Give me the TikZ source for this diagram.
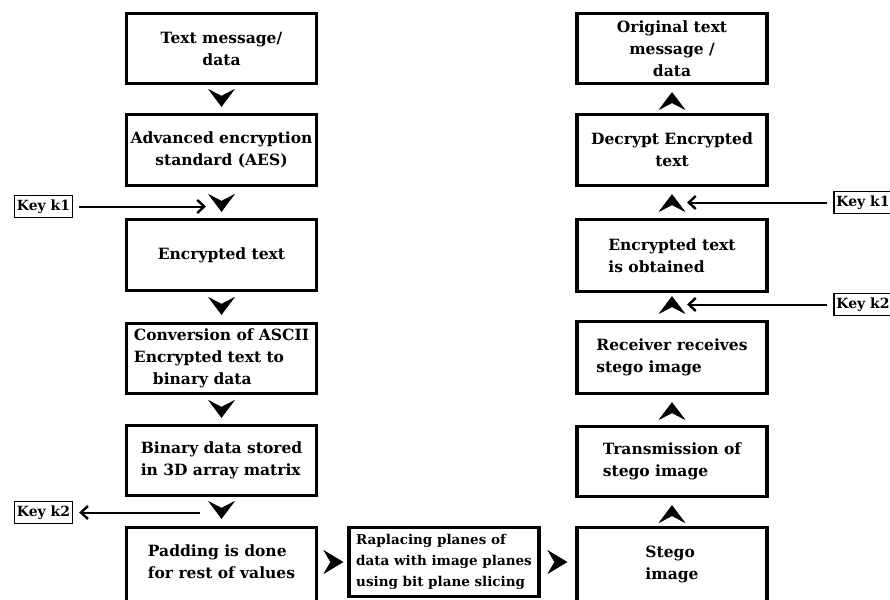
\documentclass[tikz,border=0pt]{standalone}
\usepackage{fontspec}
\setmainfont{DejaVu Serif}
\usetikzlibrary{arrows.meta}
\begin{document}
\begin{tikzpicture}[x=1pt,y=-1pt,
  box/.style={draw, line width=3.2pt, minimum width=190pt, inner sep=0pt,
    font=\fontsize{15.5}{22}\selectfont\bfseries},
  midbox/.style={draw, line width=3.2pt, minimum width=190pt, inner sep=0pt,
    font=\fontsize{13.5}{21}\selectfont\bfseries},
  lbl/.style={font=\fontsize{15.5}{22}\selectfont\bfseries, inner sep=0pt},
  keybox/.style={draw, line width=1.4pt, minimum width=58pt, minimum height=22pt,
    inner sep=0pt, font=\fontsize{14}{15}\selectfont\bfseries},
  chev/.style={line width=0.01pt, shorten <=18pt, shorten >=#1,
    -{Stealth[length=18pt,width=27pt,inset=7pt,line width=0.5pt]}},
  chevr/.style={line width=0.01pt, shorten <=22pt, shorten >=#1,
    -{Stealth[length=20pt,width=24pt,inset=7pt,line width=0.5pt]}},
  keyarrow/.style={line width=2pt, -{Straight Barb[length=7pt,width=13pt,line width=2.4pt]}}
]
\useasboundingbox (0,0) rectangle (890,599);
\fill[white] (0,0) rectangle (890,599);
\begin{scope}
\clip (0,0) rectangle (890,599);

% left column
\node[box, minimum height=70pt, align=center] (L1) at (221.5,48.5) {Text message/\\data};
\node[box, minimum height=71pt, align=center] (L2) at (221.5,150) {Advanced encryption\\standard (AES)};
\node[box, minimum height=71pt, align=center] (L3) at (221.5,255) {Encrypted text};
\node[box, minimum height=70pt, align=left] (L4) at (221.5,358.5) {Conversion of ASCII\\Encrypted text to\\\hspace*{19pt}binary data};
\node[box, minimum height=70pt, align=left] (L5) at (221.5,460.5) {Binary data stored\\in 3D array matrix};
\node[box, minimum height=77pt,
  label={[lbl, align=left, yshift=4pt]center:{Padding is done\\for rest of values}}] (L6) at (221.5,566) {};

% middle
\node[midbox, minimum height=69pt, align=left] (M) at (444,562) {Raplacing planes of\\data with image planes\\using bit plane slicing};

% right column
\node[box, minimum height=70pt, align=center] (R1) at (672,48.5) {Original text\\message /\\data};
\node[box, minimum height=71pt, align=center] (R2) at (672,150) {Decrypt Encrypted\\text};
\node[box, minimum height=72pt, align=left] (R3) at (672,255.5) {Encrypted text\\is obtained};
\node[box, minimum height=72pt, align=left] (R4) at (672,357.5) {Receiver receives\\stego image};
\node[box, minimum height=70pt, align=left] (R5) at (672,461.5) {Transmission of\\stego image};
\node[box, minimum height=77pt,
  label={[lbl, align=left, yshift=2pt]center:{Stego\\image}}] (R6) at (672,566) {};

% keys
\node[keybox] (k1L) at (43.5,206.5) {Key k1};
\node[keybox] (k2L) at (43.5,512.5) {Key k2};
\node[keybox] (k1R) at (863,202.5) {Key k1};
\node[keybox] (k2R) at (863,304.5) {Key k2};

\coordinate (c1) at (206,206.5);
\coordinate (c2) at (200,512.5);
\coordinate (c3) at (687,202.5);
\coordinate (c4) at (687,304.5);

% chevrons left (down)
\draw[chev=6pt] (L1) -- (L2);
\draw[chev=6pt] (L2) -- (L3);
\draw[chev=7pt] (L3) -- (L4);
\draw[chev=6pt] (L4) -- (L5);
\draw[chev=7pt] (L5) -- (L6);

% chevrons right (up)
\draw[chev=7pt] (R2) -- (R1);
\draw[chev=7pt] (R3) -- (R2);
\draw[chev=3pt] (R4) -- (R3);
\draw[chev=7pt] (R5) -- (R4);
\draw[chev=7pt] (R6) -- (R5);

% chevrons bottom (right)
\draw[chevr=4pt] (L6.east |- M.west) -- (M.west);
\draw[chevr=8pt] (M.east) -- (R6.west |- M.east);

% key arrows
\draw[keyarrow, shorten <=6pt] (k1L.east) -- (c1);
\draw[keyarrow, shorten >=6pt] (c2) -- (k2L.east);
\draw[keyarrow, shorten <=6pt] (k1R.west) -- (c3);
\draw[keyarrow, shorten <=6pt] (k2R.west) -- (c4);
\end{scope}
\end{tikzpicture}
\end{document}
